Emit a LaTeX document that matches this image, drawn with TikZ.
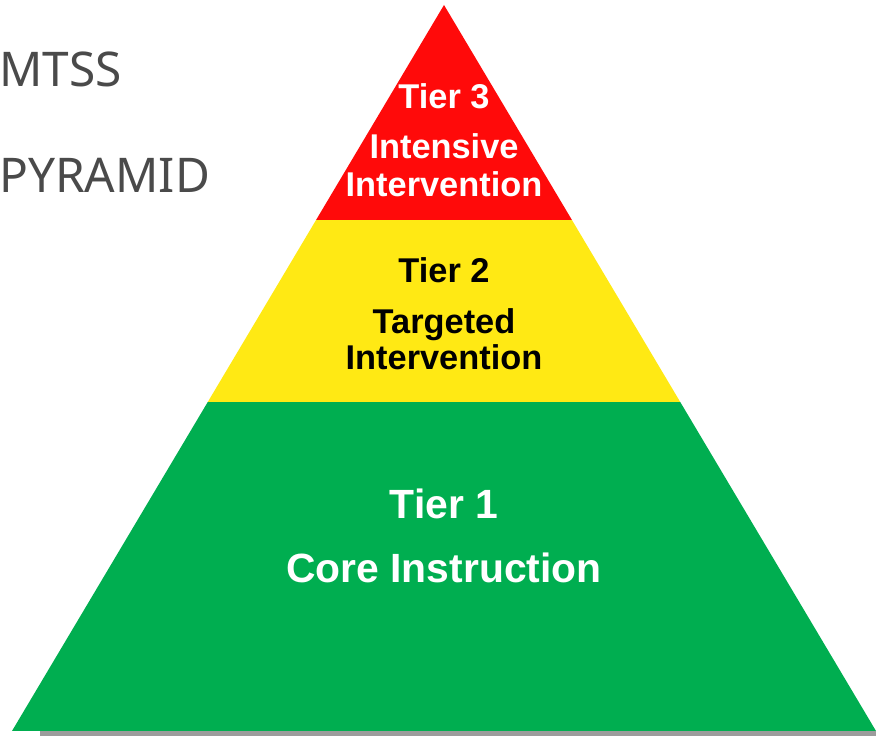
\documentclass[tikz,border=0pt]{standalone}
\usepackage{fontspec}
\setsansfont{Liberation Sans}
\newfontfamily\titlefont{Noto Sans}
\usepackage{xcolor}
\definecolor{TierRed}{HTML}{FF0A0A}
\definecolor{TierYellow}{HTML}{FFE914}
\definecolor{TierGreen}{HTML}{00AE50}
\definecolor{TitleGray}{HTML}{4A4A4A}
\definecolor{BaseShade}{HTML}{9C9C9C}
\usetikzlibrary{calc}

\begin{document}
\begin{tikzpicture}[x=1bp,y=1bp,
  tierlbl/.style={font=\sffamily\bfseries\fontsize{34.5}{40}\selectfont,anchor=base,inner sep=0pt},
  corelbl/.style={tierlbl,font=\sffamily\bfseries\fontsize{41}{48}\selectfont},
  titlelbl/.style={font=\titlefont\fontsize{48}{55}\selectfont,text=TitleGray,anchor=base west,inner sep=0pt}]
\useasboundingbox (0,0) rectangle (876,736);
\coordinate (bl) at (12,5);
\coordinate (br) at (876,5);
\coordinate (apex) at (444,731);
% tier boundaries along both sides
\coordinate (l2) at ($(bl)!0.4532!(apex)$);
\coordinate (r2) at ($(br)!0.4532!(apex)$);
\coordinate (l3) at ($(bl)!0.7039!(apex)$);
\coordinate (r3) at ($(br)!0.7039!(apex)$);
% shadow under the base
\fill[BaseShade] (40,0) rectangle (876,5);
\fill[TierGreen] (bl) -- (br) -- (r2) -- (l2) -- cycle;
\fill[TierYellow] (l2) -- (r2) -- (r3) -- (l3) -- cycle;
\fill[TierRed] (l3) -- (r3) -- (apex) -- cycle;
% labels
\foreach \n/\y/\txt in {t3a/627/{Tier 3}, t3b/577/Intensive, t3c/539/Intervention} {
  \node[tierlbl,text=white] (\n) at (444,\y) {\txt};
}
\foreach \n/\y/\txt in {t2a/453/{Tier 2}, t2b/402/Targeted, t2c/366/Intervention} {
  \node[tierlbl,text=black] (\n) at (444,\y) {\txt};
}
\node[corelbl,text=white] (t1a) at (444,217) {Tier 1};
\node[corelbl,text=white] (t1b) at (444,153) {Core Instruction};
\node[titlelbl] (mtss) at (-1,649) {MTSS};
\node[titlelbl] (pyr) at (-1,543) {PYRAMID};
\end{tikzpicture}
\end{document}
